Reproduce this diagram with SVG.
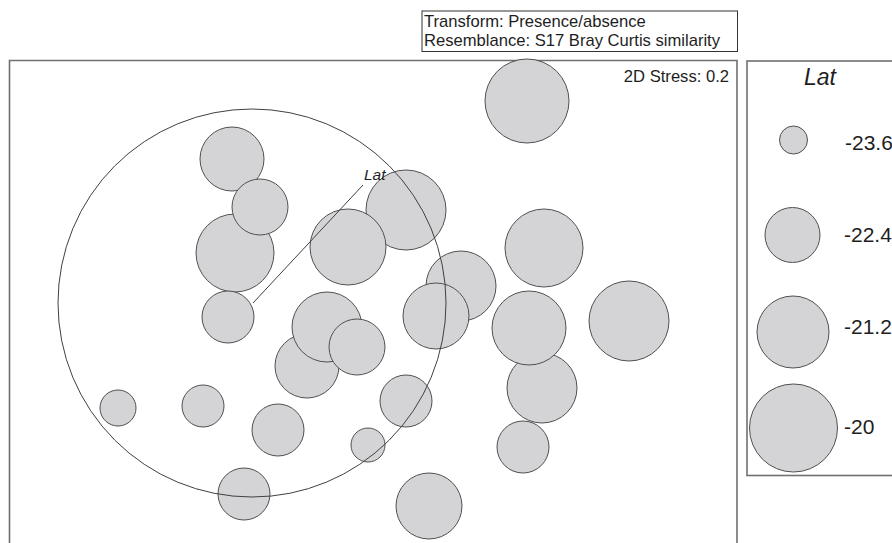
<svg xmlns="http://www.w3.org/2000/svg" width="892" height="543" viewBox="0 0 892 543">
<style>
.pt{fill:#d4d4d6;stroke:#505050;stroke-width:1}
.frame{fill:none;stroke:#707070;stroke-width:1.6}
.txt{font-family:"Liberation Sans",Arial,sans-serif;fill:#1e1e1e}
.thin{fill:none;stroke:#404040;stroke-width:1}
</style>
<rect width="892" height="543" fill="#ffffff"/>
<g id="header">
<rect x="422" y="11" width="315.5" height="40.5" fill="#ffffff" stroke="#333" stroke-width="1"/>
<text class="txt" x="424" y="27" font-size="16.6">Transform: Presence/absence</text>
<text class="txt" x="424" y="46" font-size="16.6">Resemblance: S17 Bray Curtis similarity</text>
</g>
<g id="plot-frame">
<path class="frame" d="M9.5 545 V60.5 H737 V545"/>
<text class="txt" x="729" y="82" font-size="16.6" text-anchor="end">2D Stress: 0.2</text>
</g>
<g id="points">
<g id="p1"><circle class="pt" cx="527" cy="101" r="42"/></g>
<g id="p2"><circle class="pt" cx="232" cy="159" r="32"/></g>
<g id="p3"><circle class="pt" cx="235" cy="253" r="39"/></g>
<g id="p4"><circle class="pt" cx="260" cy="207" r="28"/></g>
<g id="p5"><circle class="pt" cx="406" cy="210" r="40"/></g>
<g id="p6"><circle class="pt" cx="348" cy="247" r="38"/></g>
<g id="p7"><circle class="pt" cx="228" cy="317" r="26"/></g>
<g id="p8"><circle class="pt" cx="307" cy="366" r="32"/></g>
<g id="p9"><circle class="pt" cx="327" cy="327" r="35"/></g>
<g id="p10"><circle class="pt" cx="357" cy="347" r="28"/></g>
<g id="p11"><circle class="pt" cx="461" cy="286" r="35"/></g>
<g id="p12"><circle class="pt" cx="436" cy="316" r="33"/></g>
<g id="p13"><circle class="pt" cx="544" cy="248" r="39"/></g>
<g id="p14"><circle class="pt" cx="542" cy="388" r="35"/></g>
<g id="p15"><circle class="pt" cx="529" cy="328" r="37"/></g>
<g id="p16"><circle class="pt" cx="629" cy="321" r="40"/></g>
<g id="p17"><circle class="pt" cx="523" cy="447" r="26"/></g>
<g id="p18"><circle class="pt" cx="406" cy="401" r="26"/></g>
<g id="p19"><circle class="pt" cx="118" cy="408" r="18"/></g>
<g id="p20"><circle class="pt" cx="203" cy="406" r="21"/></g>
<g id="p21"><circle class="pt" cx="278" cy="430" r="26"/></g>
<g id="p22"><circle class="pt" cx="368" cy="445" r="17"/></g>
<g id="p23"><circle class="pt" cx="244" cy="494" r="26"/></g>
<g id="p24"><circle class="pt" cx="429" cy="506" r="33"/></g>
</g>
<g id="vector-overlay">
<circle class="thin" cx="252" cy="303" r="194"/>
<line class="thin" x1="253" y1="303" x2="363" y2="185"/>
<text class="txt" x="364" y="180" font-size="15.5" font-style="italic">Lat</text>
</g>
<g id="legend">
<rect x="747" y="61" width="160" height="414.5" fill="none" stroke="#707070" stroke-width="1.6"/>
<text class="txt" x="820" y="85" font-size="23" font-style="italic" text-anchor="middle">Lat</text>
<g id="leg1"><circle class="pt" cx="793.5" cy="140" r="14"/><text class="txt" x="845" y="150" font-size="21">-23.6</text></g>
<g id="leg2"><circle class="pt" cx="792.5" cy="235" r="27.5"/><text class="txt" x="844" y="242" font-size="21">-22.4</text></g>
<g id="leg3"><circle class="pt" cx="793" cy="332" r="36"/><text class="txt" x="844" y="334" font-size="21">-21.2</text></g>
<g id="leg4"><circle class="pt" cx="793.5" cy="428" r="44"/><text class="txt" x="844" y="434" font-size="21">-20</text></g>
</g>
</svg>
